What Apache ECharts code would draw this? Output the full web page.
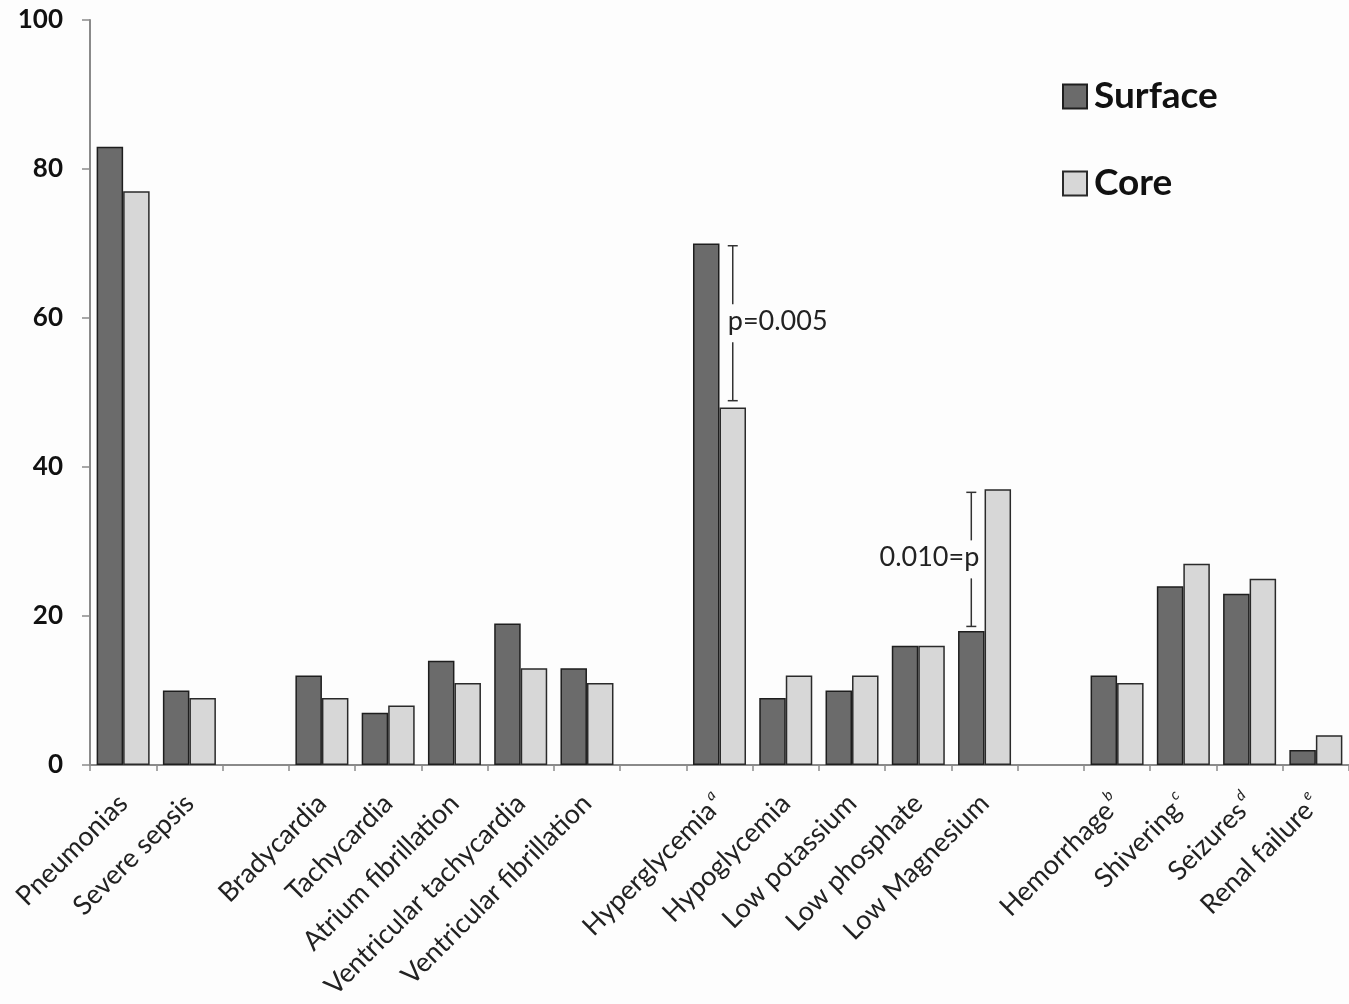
<!DOCTYPE html>
<html>
<head>
<meta charset="utf-8">
<script src="https://cdn.jsdelivr.net/npm/echarts@6/dist/echarts.min.js"></script>
<style>
    html, body { margin: 0; padding: 0; background: #fdfdfd; }
    #main { width: 1349px; height: 1004px; }
</style>
</head>
<body>
<div id="main"></div>
<script>
// categories (empty strings are the gaps between groups)
const categories = [
    "Pneumonias", "Severe sepsis", "",
    "Bradycardia", "Tachycardia", "Atrium fibrillation", "Ventricular tachycardia", "Ventricular fibrillation", "",
    "Hyperglycemia|a", "Hypoglycemia", "Low potassium", "Low phosphate", "Low Magnesium", "",
    "Hemorrhage|b", "Shivering|c", "Seizures|d", "Renal failure|e"
];
const surface = [83, 10, "-", 12, 7, 14, 19, 13, "-", 70, 9, 10, 16, 18, "-", 12, 24, 23, 2];
const core = [77, 9, "-", 9, 8, 11, 13, 11, "-", 48, 12, 12, 16, 37, "-", 11, 27, 25, 4];
const yTicks = [0, 20, 40, 60, 80, 100];
// p-value brackets: [category index, top, bottom, side (-1 surface / +1 core), text]
const pBrackets = [
    [9, 69.7, 48.9, 1, "p=0.005"],
    [13, 36.6, 18.6, -1, "0.010=p"]
];

const chart = echarts.init(document.getElementById("main"));

const option = {
    backgroundColor: "#fdfdfd",
    animation: false,
    legend: {
        orient: "vertical",
        left: 1057,
        top: 73,
        itemGap: 50,
        itemWidth: 24,
        itemHeight: 24,
        icon: "rect",
        textStyle: {
            fontFamily: "Lato",
            fontWeight: "bold",
            fontSize: 37,
            color: "#111",
            padding: [0, 0, 0, 2]
        },
        data: ["Surface", "Core"]
    },
    grid: {
        left: 90,
        right: -15,
        top: 20,
        bottom: 239,
        containLabel: false
    },
    xAxis: {
        type: "category",
        data: categories,
        axisLine: { show: true, lineStyle: { color: "#8a8a8a", width: 2 } },
        axisTick: { show: true, length: 6, lineStyle: { color: "#8a8a8a", width: 1.5 } },
        axisLabel: {
            interval: 0,
            rotate: 45,
            margin: 34,
            fontFamily: "Lato",
            fontSize: 27,
            color: "#222",
            formatter: function (v) {
                if (v.indexOf("|") > -1) {
                    const p = v.split("|");
                    return p[0] + "{sup|" + p[1] + "}";
                }
                return v;
            },
            rich: {
                sup: {
                    fontFamily: "Lato",
                    fontStyle: "italic",
                    fontSize: 15,
                    color: "#222",
                    verticalAlign: "top",
                    padding: [0, 0, 18, 3]
                }
            }
        }
    },
    yAxis: {
        type: "value",
        min: 0,
        max: 100,
        interval: 20,
        splitLine: { show: false },
        axisLine: { show: true, lineStyle: { color: "#8a8a8a", width: 2 } },
        axisTick: { show: true, length: 8, lineStyle: { color: "#8a8a8a", width: 1.5 } },
        axisLabel: {
            margin: 27,
            fontFamily: "Lato",
            fontWeight: "bold",
            fontSize: 26,
            color: "#111",
            formatter: function (v) {
                return yTicks.indexOf(v) > -1 ? String(v) : "";
            }
        }
    },
    series: [
        {
            name: "Surface",
            type: "bar",
            data: surface,
            barGap: "0%",
            barCategoryGap: "20%",
            itemStyle: { color: "#6b6b6b", borderColor: "#1e1e1e", borderWidth: 1.5 }
        },
        {
            name: "Core",
            type: "bar",
            data: core,
            barGap: "0%",
            barCategoryGap: "20%",
            itemStyle: { color: "#d7d7d7", borderColor: "#2a2a2a", borderWidth: 1.5 }
        },
        {
            name: "pvalues",
            type: "custom",
            silent: true,
            z: 5,
            data: pBrackets,
            renderItem: function (params, api) {
                const band = api.size([1, 0])[0];
                const x = api.coord([api.value(0), 0])[0] + api.value(3) * band * 0.2;
                const yTop = api.coord([0, api.value(1)])[1];
                const yBot = api.coord([0, api.value(2)])[1];
                const mid = (yTop + yBot) / 2;
                const gap = 19;
                const cap = 5;
                const ls = { stroke: "#333", lineWidth: 1.5 };
                const right = api.value(3) > 0;
                return {
                    type: "group",
                    children: [
                        { type: "line", shape: { x1: x - cap, y1: yTop, x2: x + cap, y2: yTop }, style: ls },
                        { type: "line", shape: { x1: x - cap, y1: yBot, x2: x + cap, y2: yBot }, style: ls },
                        { type: "line", shape: { x1: x, y1: yTop, x2: x, y2: mid - gap }, style: ls },
                        { type: "line", shape: { x1: x, y1: mid + gap, x2: x, y2: yBot }, style: ls },
                        {
                            type: "text",
                            x: right ? x - 5 : x + 8,
                            y: mid - 2,
                            style: {
                                text: pBrackets[params.dataIndex][4],
                                fontFamily: "Lato",
                                fontSize: 27,
                                fill: "#222",
                                align: right ? "left" : "right",
                                verticalAlign: "middle"
                            }
                        }
                    ]
                };
            }
        }
    ]
};

chart.setOption(option);
</script>
</body>
</html>
